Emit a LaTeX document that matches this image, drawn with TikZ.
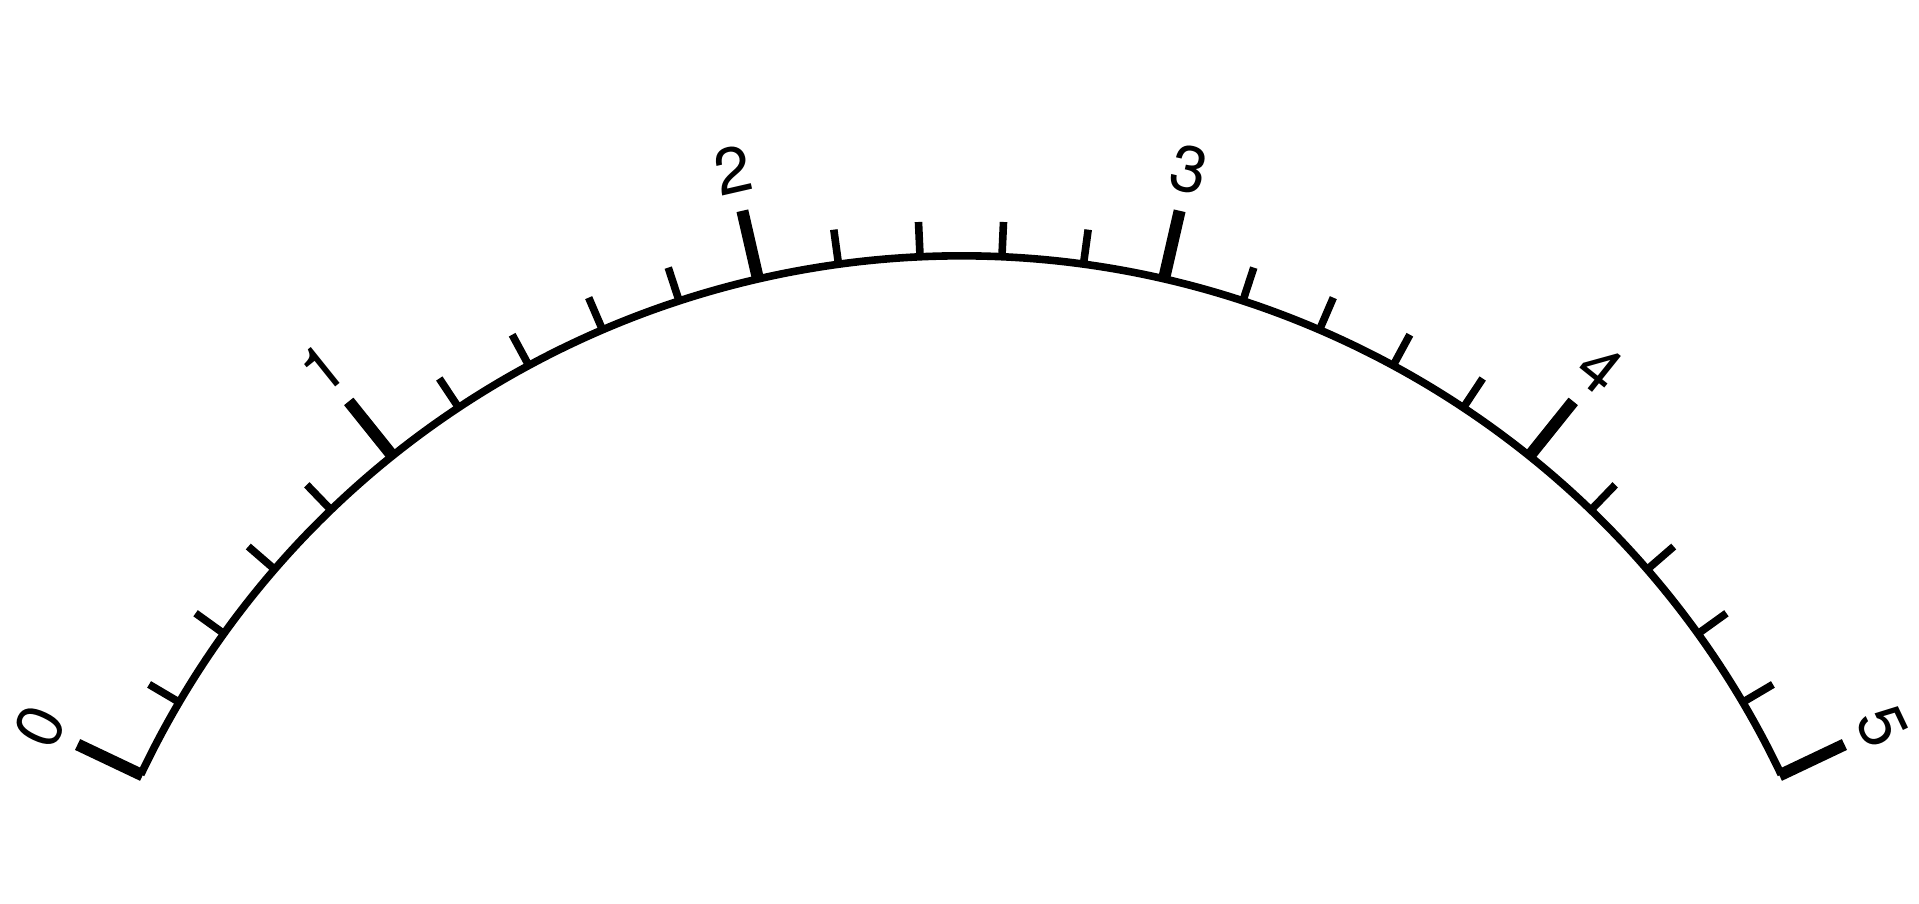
\documentclass[tikz,border=0pt]{standalone}
\usepackage{fontspec}
\setmainfont{TeX Gyre Heros}
\usetikzlibrary{calc}
\begin{document}
\begin{tikzpicture}[
  arcline/.style={line width=3.8pt},
  minortick/.style={line width=3.8pt},
  majortick/.style={line width=6pt},
  scalelabel/.style={font=\fontsize{32.5}{32.5}\selectfont, inner sep=0pt}
]
\useasboundingbox (0,0) rectangle (959.5pt,452pt);
\coordinate (C) at (480.5pt,-130pt);
\draw[arcline] ($(C)+(154.6:454pt)$) arc[start angle=154.6,end angle=25.4,radius=454pt];
\foreach \i in {0,...,25}{
  \pgfmathsetmacro\ang{154.6-5.168*\i}
  \pgfmathtruncatemacro\m{mod(\i,5)}
  \ifnum\m=0
    \draw[majortick] ($(C)+(\ang:453pt)$) -- ($(C)+(\ang:489pt)$);
  \else
    \draw[minortick] ($(C)+(\ang:453pt)$) -- ($(C)+(\ang:471.5pt)$);
  \fi
}
\foreach \k in {0,...,5}{
  \pgfmathsetmacro\ang{154.6-25.84*\k}
  \node[scalelabel, rotate=\ang-90] (L\k) at ($(C)+(\ang:510pt)$) {\k};
}
\end{tikzpicture}
\end{document}
